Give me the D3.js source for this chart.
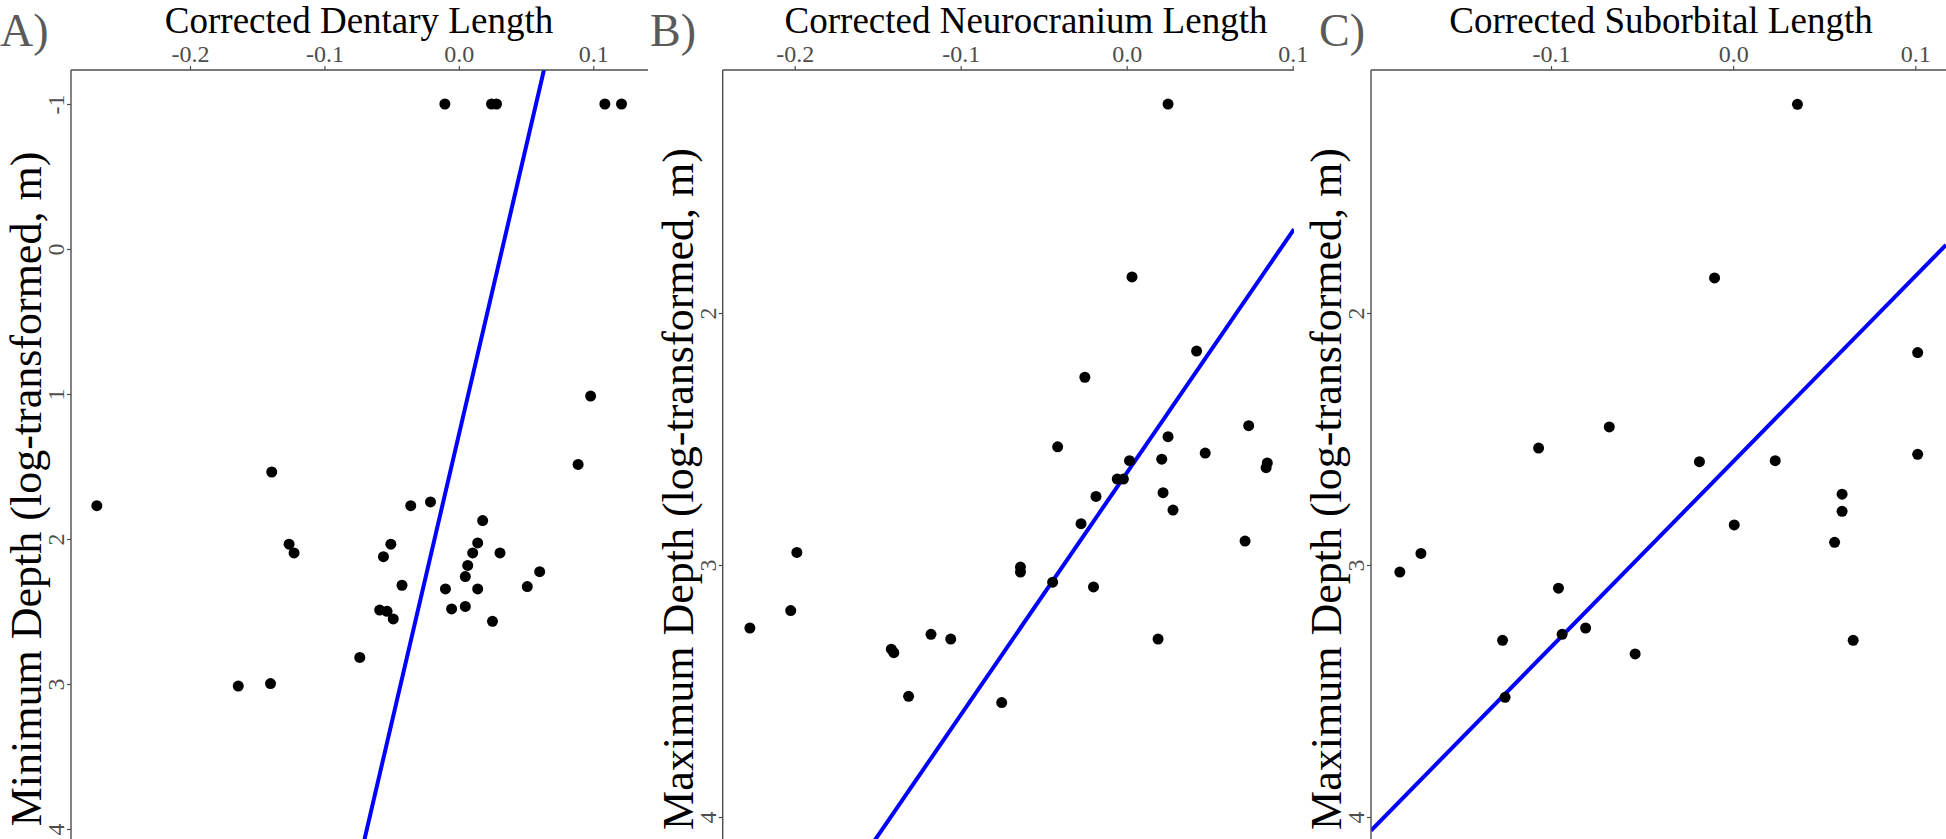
<!DOCTYPE html>
<html>
<head>
<meta charset="utf-8">
<script src="https://cdn.jsdelivr.net/npm/d3@7"></script>
<style>
  body { margin: 0; background: #fff; }
  svg { display: block; }
  text { font-family: "Liberation Serif", "Times New Roman", serif; }
</style>
</head>
<body>
<div id="graph"></div>
<script>
var W = 1946, H = 839;

// ---- data ----
// A) corrected dentary length vs minimum depth
var dentaryLen = [-0.0104, 0.0243, 0.028, 0.1086, 0.121, -0.2693, 0.098, 0.0887, -0.1392, -0.0211,
  -0.0358, 0.0177, -0.0506, 0.014, 0.0306, -0.0561, 0.0103, 0.0066, -0.1263, -0.1226,
  0.0601, 0.0509, -0.0423, 0.0048, 0.014, -0.01, -0.0589, -0.0534, -0.0488, 0.0048,
  -0.0054, 0.025, -0.0737, -0.1641, -0.1401];
var minDepth = [-1, -1, -1, -1, -1, 1.77, 1.014, 1.486, 1.538, 1.744,
  1.77, 1.873, 2.036, 2.027, 2.096, 2.122, 2.096, 2.182, 2.036, 2.096,
  2.225, 2.328, 2.319, 2.259, 2.344, 2.344, 2.49, 2.499, 2.551, 2.465,
  2.482, 2.568, 2.817, 3.014, 2.997];

// B) corrected neurocranium length vs maximum depth
var neuroLen = [0.0249, 0.0032, 0.0421, -0.0252, 0.0735, -0.0416, 0.0249, 0.0017, 0.0211, 0.0473,
  0.0847, 0.084, -0.0057, -0.002, -0.0185, 0.0219, 0.0279, -0.0275, 0.0713, -0.0446,
  -0.064, -0.064, -0.02, -0.1987, -0.2024, -0.227, -0.1418, -0.1403, -0.1179, -0.106,
  -0.1314, -0.0753, 0.0189];
var maxDepthB = [1.171, 1.857, 2.151, 2.255, 2.447, 2.531, 2.491, 2.586, 2.580, 2.556,
  2.595, 2.614, 2.659, 2.659, 2.728, 2.713, 2.782, 2.836, 2.905, 3.068,
  3.008, 3.028, 3.087, 2.950, 3.181, 3.250, 3.334, 3.348, 3.275, 3.294,
  3.521, 3.546, 3.294];

// C) corrected suborbital length vs maximum depth
var suborbLen = [0.0353, -0.0102, 0.1013, -0.1068, -0.068, -0.0185, 0.0231, 0.1013, 0.0598, 0.0598,
  0.0006, 0.0557, -0.183, -0.1714, -0.0959, -0.1266, -0.0939, -0.081, -0.0538, 0.0659,
  -0.1252];
var maxDepthC = [1.172, 1.861, 2.157, 2.536, 2.452, 2.590, 2.586, 2.561, 2.719, 2.787,
  2.841, 2.910, 3.028, 2.954, 3.092, 3.299, 3.275, 3.250, 3.353, 3.299,
  3.525];

// fitted lines: [intercept, slope]
var fitA = [1.281, -39.75];
var fitB = [2.635, -9.603];
var fitC = [2.590, -7.361];

var xTicksA = [-0.2, -0.1, 0.0, 0.1];
var xTicksB = [-0.2, -0.1, 0.0, 0.1];
var xTicksC = [-0.1, 0.0, 0.1];
var yTicksA = [-1, 0, 1, 2, 3, 4];
var yTicksB = [2, 3, 4];
var yTicksC = [2, 3, 4];

// ---- layout ----
var panels = [
  { tag: 'A)', tagX: 0, xTitle: 'Corrected Dentary Length', xTitleX: 359,
    yTitle: 'Minimum Depth (log-transformed, m)',
    left: 71, right: 648, top: 70, bottom: 839,
    xRef: [-0.2, 0.1], xPix: [190, 593.3], yRef: [-1, 4], yPix: [104, 829],
    xs: dentaryLen, ys: minDepth, fit: fitA, xTicks: xTicksA, yTicks: yTicksA },
  { tag: 'B)', tagX: 650, xTitle: 'Corrected Neurocranium Length', xTitleX: 1026,
    yTitle: 'Maximum Depth (log-transformed, m)',
    left: 722.7, right: 1294, top: 70, bottom: 839,
    xRef: [-0.2, 0.1], xPix: [794.7, 1292.7], yRef: [2, 4], yPix: [313, 817],
    xs: neuroLen, ys: maxDepthB, fit: fitB, xTicks: xTicksB, yTicks: yTicksB },
  { tag: 'C)', tagX: 1319, xTitle: 'Corrected Suborbital Length', xTitleX: 1661,
    yTitle: 'Maximum Depth (log-transformed, m)',
    left: 1371, right: 1946, top: 70, bottom: 839,
    xRef: [-0.1, 0.1], xPix: [1551, 1915.3], yRef: [2, 4], yPix: [313, 817],
    xs: suborbLen, ys: maxDepthC, fit: fitC, xTicks: xTicksC, yTicks: yTicksC }
];

var axisGray = '#4d4d4d';
// plain hyphen for negatives, like the original figure
var fmtX = function(d) { return d3.format('.1f')(d).replace('\u2212', '-'); };
var fmtY = function(d) { return String(d); };

var svg = d3.select('#graph').append('svg')
    .attr('width', W)
    .attr('height', H);

svg.append('rect').attr('width', W).attr('height', H).attr('fill', '#fff');

panels.forEach(function(p, i) {
  var x = d3.scaleLinear().domain(p.xRef).range(p.xPix);
  var y = d3.scaleLinear().domain(p.yRef).range(p.yPix);
  var g = svg.append('g').attr('class', 'panel');

  // clip to the panel area so the fit line stops at the frame
  var clipId = 'clip' + i;
  svg.append('clipPath').attr('id', clipId)
    .append('rect')
      .attr('x', p.left).attr('y', p.top)
      .attr('width', p.right - p.left).attr('height', p.bottom - p.top);

  // fitted line
  var x0 = x.invert(p.left), x1 = x.invert(p.right);
  g.append('line')
    .attr('clip-path', 'url(#' + clipId + ')')
    .attr('x1', x(x0)).attr('y1', y(p.fit[0] + p.fit[1] * x0))
    .attr('x2', x(x1)).attr('y2', y(p.fit[0] + p.fit[1] * x1))
    .attr('stroke', '#0000ff').attr('stroke-width', 4);

  // points
  g.append('g').selectAll('circle')
    .data(p.xs.map(function(v, k) { return [v, p.ys[k]]; }))
    .enter().append('circle')
      .attr('cx', function(d) { return x(d[0]); })
      .attr('cy', function(d) { return y(d[1]); })
      .attr('r', 5.5)
      .attr('fill', '#000');

  // top x axis
  var xa = g.append('g')
      .attr('transform', 'translate(0,' + p.top + ')')
      .call(d3.axisTop(x).tickValues(p.xTicks).tickSize(4).tickPadding(4).tickFormat(fmtX));
  xa.select('.domain').remove();
  xa.selectAll('.tick line').attr('stroke', axisGray).attr('stroke-width', 1.2);
  xa.selectAll('.tick text').attr('fill', axisGray).attr('font-size', 24)
    .attr('font-family', '"Liberation Serif", serif');
  g.append('line')
    .attr('x1', p.left).attr('x2', p.right).attr('y1', p.top).attr('y2', p.top)
    .attr('stroke', axisGray).attr('stroke-width', 1.4);

  // left y axis, labels turned like the axis title
  var ya = g.append('g')
      .attr('transform', 'translate(' + p.left + ',0)')
      .call(d3.axisLeft(y).tickValues(p.yTicks).tickSize(4).tickFormat(fmtY));
  ya.select('.domain').remove();
  ya.selectAll('.tick line').attr('stroke', axisGray).attr('stroke-width', 1.2);
  ya.selectAll('.tick text')
    .attr('fill', axisGray).attr('font-size', 24)
    .attr('font-family', '"Liberation Serif", serif')
    .attr('text-anchor', 'middle')
    .attr('x', 0).attr('y', -7).attr('dy', 0)
    .attr('transform', 'rotate(-90)');
  g.append('line')
    .attr('x1', p.left).attr('x2', p.left).attr('y1', p.top).attr('y2', p.bottom)
    .attr('stroke', axisGray).attr('stroke-width', 1.4);

  // titles
  g.append('text').text(p.xTitle)
    .attr('x', p.xTitleX).attr('y', 33)
    .attr('text-anchor', 'middle').attr('font-size', 37).attr('fill', '#000');

  g.append('text').text(p.yTitle)
    .attr('transform', 'translate(' + (p.left - 30) + ',489) rotate(-90)')
    .attr('text-anchor', 'middle').attr('font-size', 44).attr('fill', '#000');

  g.append('text').text(p.tag)
    .attr('x', p.tagX).attr('y', 46)
    .attr('font-size', 46).attr('fill', '#5a5a5a');
});
</script>
</body>
</html>
